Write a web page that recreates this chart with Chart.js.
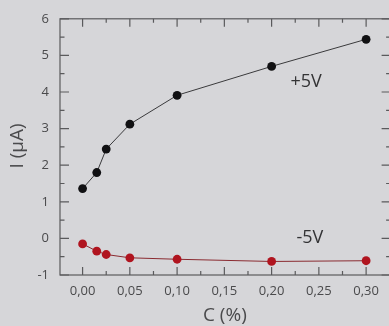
<!DOCTYPE html>
<html>
<head>
<meta charset="utf-8">
<script src="https://cdn.jsdelivr.net/npm/chart.js@4/dist/chart.umd.min.js"></script>
<style>
html,body{margin:0;padding:0;background:#d6d6d9;overflow:hidden;width:389px;height:326px;}
#wrap{position:absolute;left:0;top:0;width:395px;height:326px;}
</style>
</head>
<body>
<div id="wrap"><canvas id="c" width="395" height="326"></canvas></div>
<script>
const cValues = [0, 0.015, 0.025, 0.05, 0.10, 0.20, 0.30];
const iPlus5 = [1.36, 1.80, 2.44, 3.12, 3.91, 4.70, 5.44];
const iMinus5 = [-0.15, -0.35, -0.44, -0.53, -0.57, -0.63, -0.61];
const xTicks = [0, 0.05, 0.10, 0.15, 0.20, 0.25, 0.30];
const yTicks = [-1, 0, 1, 2, 3, 4, 5, 6];
const seriesLabels = ['+5V', '-5V'];
const xTitle = 'C (%)';
const yTitle = 'I (µA)';

const FONT = '"Open Sans", "DejaVu Sans", sans-serif';
const TXT = '#4a4a4c';
const AX = '#5a5a5c';

const framePlugin = {
  id: 'frame',
  afterDraw(chart) {
    const {ctx, chartArea: a, scales: {x, y}} = chart;
    ctx.save();
    ctx.strokeStyle = AX;
    ctx.lineWidth = 1.2;
    ctx.strokeRect(a.left, a.top, a.right - a.left, a.bottom - a.top);
    ctx.beginPath();
    for (let i = 0; i < xTicks.length; i++) {
      const px = x.getPixelForValue(xTicks[i]);
      ctx.moveTo(px, a.bottom); ctx.lineTo(px, a.bottom - 8);
      ctx.moveTo(px, a.top); ctx.lineTo(px, a.top + 8);
      if (i < xTicks.length - 1) {
        const mx = x.getPixelForValue((xTicks[i] + xTicks[i + 1]) / 2);
        ctx.moveTo(mx, a.bottom); ctx.lineTo(mx, a.bottom - 4);
        ctx.moveTo(mx, a.top); ctx.lineTo(mx, a.top + 4);
      }
    }
    for (let i = 0; i < yTicks.length; i++) {
      const py = y.getPixelForValue(yTicks[i]);
      ctx.moveTo(a.left, py); ctx.lineTo(a.left + 9, py);
      ctx.moveTo(a.right, py); ctx.lineTo(a.right - 9, py);
      if (i < yTicks.length - 1) {
        const my = y.getPixelForValue((yTicks[i] + yTicks[i + 1]) / 2);
        ctx.moveTo(a.left, my); ctx.lineTo(a.left + 4.5, my);
        ctx.moveTo(a.right, my); ctx.lineTo(a.right - 4.5, my);
      }
    }
    ctx.stroke();
    ctx.fillStyle = TXT;
    ctx.font = '19px ' + FONT;
    ctx.textAlign = 'center';
    ctx.textBaseline = 'middle';
    ctx.fillText(xTitle, x.getPixelForValue(0.1505), 316);
    ctx.save();
    ctx.translate(18, 146);
    ctx.rotate(-Math.PI / 2);
    ctx.fillText(yTitle, 0, 0);
    ctx.restore();
    ctx.font = '18px ' + FONT;
    ctx.fillStyle = '#333335';
    ctx.fillText(seriesLabels[0], x.getPixelForValue(0.2365), y.getPixelForValue(4.28));
    ctx.fillText(seriesLabels[1], x.getPixelForValue(0.2405), y.getPixelForValue(0.02));
    ctx.restore();
  }
};

new Chart(document.getElementById('c'), {
  type: 'scatter',
  data: {
    datasets: [
      {
        label: seriesLabels[0],
        data: cValues.map((c, i) => ({x: c, y: iPlus5[i]})),
        showLine: true,
        borderColor: '#3a3a3c',
        borderWidth: 1,
        pointBackgroundColor: '#111113',
        pointBorderColor: '#111113',
        pointRadius: 4.4,
        pointBorderWidth: 0
      },
      {
        label: seriesLabels[1],
        data: cValues.map((c, i) => ({x: c, y: iMinus5[i]})),
        showLine: true,
        borderColor: '#8a2a30',
        borderWidth: 1,
        pointBackgroundColor: '#b0141f',
        pointBorderColor: '#b0141f',
        pointRadius: 4.4,
        pointBorderWidth: 0
      }
    ]
  },
  options: {
    responsive: false,
    animation: false,
    devicePixelRatio: 1,
    layout: {padding: {top: 18, right: 4, left: 0, bottom: 0}},
    plugins: {legend: {display: false}, tooltip: {enabled: false}},
    scales: {
      x: {
        type: 'linear',
        min: -0.0239,
        max: 0.3259,
        afterBuildTicks(s) { s.ticks = xTicks.map(v => ({value: v})); },
        afterFit(s) { s.height = 51; },
        grid: {display: false, drawTicks: false},
        border: {display: false},
        ticks: {
          padding: 8,
          color: TXT,
          font: {family: FONT, size: 13},
          maxRotation: 0,
          autoSkip: false,
          callback: v => v.toFixed(2).replace('.', ',')
        }
      },
      y: {
        type: 'linear',
        min: -1,
        max: 6,
        afterBuildTicks(s) { s.ticks = yTicks.map(v => ({value: v})); },
        afterFit(s) { s.width = 60; },
        grid: {display: false, drawTicks: false},
        border: {display: false},
        ticks: {
          padding: 11,
          color: TXT,
          font: {family: FONT, size: 13},
          autoSkip: false,
          callback: v => String(v)
        }
      }
    }
  },
  plugins: [framePlugin]
});
</script>
</body>
</html>
